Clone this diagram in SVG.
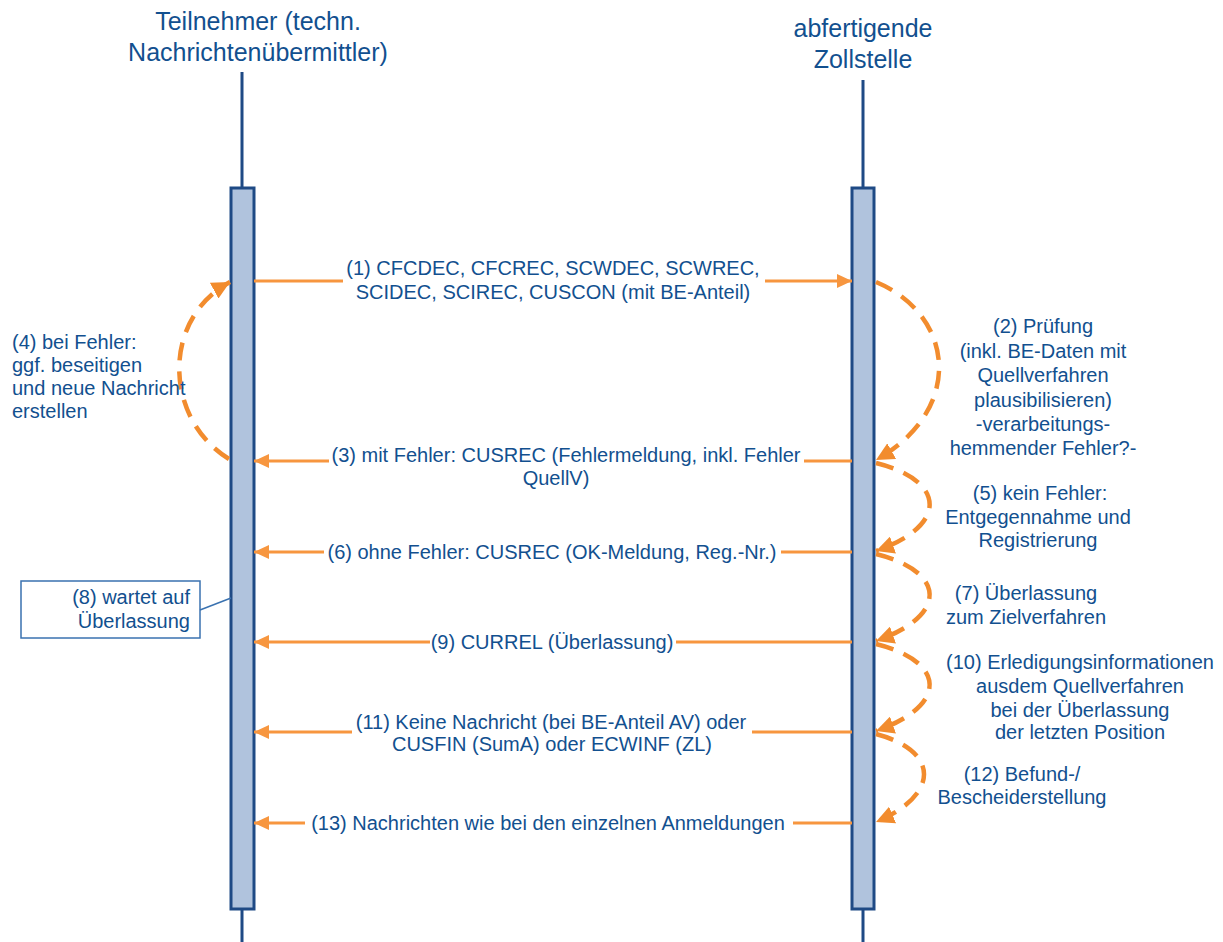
<svg xmlns="http://www.w3.org/2000/svg" width="1223" height="942" viewBox="0 0 1223 942">
<style>
text{font-family:"Liberation Sans",Arial,sans-serif;fill:#12508F;}
.h{font-size:25px;text-anchor:middle;}
.t{font-size:20px;}
.m{text-anchor:middle;}
.life{stroke:#1F4A85;stroke-width:3;fill:none;}
.bar{fill:#B0C3DD;stroke:#1F4A85;stroke-width:3;}
.msg{stroke:#F7963F;stroke-width:3;fill:none;marker-end:url(#ah);}
.seg{stroke:#F7963F;stroke-width:3;fill:none;}
.self{stroke:#F28C2E;stroke-width:4.5;fill:none;stroke-dasharray:18 11;marker-end:url(#ahd);}
</style>
<defs>
<marker id="ah" markerUnits="userSpaceOnUse" markerWidth="16" markerHeight="14" refX="15" refY="7" orient="auto"><path d="M0,0 L15,7 L0,14 z" fill="#F7963F"/></marker>
<marker id="ahd" markerUnits="userSpaceOnUse" markerWidth="20" markerHeight="18" refX="18" refY="9" orient="auto"><path d="M0,0 L18,9 L0,18 z" fill="#F28C2E"/></marker>
</defs>
<g id="participant-left">
<text class="h" x="258" y="30">Teilnehmer (techn.</text>
<text class="h" x="258" y="61">Nachrichtenübermittler)</text>
<line class="life" x1="242" y1="72" x2="242" y2="942"/>
<rect class="bar" x="231" y="188" width="23" height="721"/>
</g>
<g id="participant-right">
<text class="h" x="863" y="37">abfertigende</text>
<text class="h" x="863" y="68">Zollstelle</text>
<line class="life" x1="863" y1="80" x2="863" y2="942"/>
<rect class="bar" x="852" y="188" width="22" height="721"/>
</g>
<g id="note-8">
<rect x="21" y="581" width="179" height="57" fill="#fff" stroke="#3A72B0" stroke-width="1.5"/>
<line x1="200" y1="610" x2="231" y2="598" stroke="#3A72B0" stroke-width="1.5"/>
<text class="t" x="190" y="604" text-anchor="end">(8) wartet auf</text>
<text class="t" x="190" y="628" text-anchor="end">Überlassung</text>
</g>
<g id="connectors">
<line class="seg" x1="254" y1="281" x2="343" y2="281"/>
<line class="msg" x1="765" y1="281" x2="852" y2="281"/>
<line class="seg" x1="852" y1="461" x2="804" y2="461"/>
<line class="msg" x1="329" y1="461" x2="254" y2="461"/>
<line class="seg" x1="852" y1="552" x2="781" y2="552"/>
<line class="msg" x1="324" y1="552" x2="254" y2="552"/>
<line class="seg" x1="852" y1="642" x2="676" y2="642"/>
<line class="msg" x1="430" y1="642" x2="254" y2="642"/>
<line class="seg" x1="852" y1="732" x2="752" y2="732"/>
<line class="msg" x1="352" y1="732" x2="254" y2="732"/>
<line class="seg" x1="852" y1="823" x2="793" y2="823"/>
<line class="msg" x1="305" y1="823" x2="254" y2="823"/>
<path class="self" d="M876 282 C955 315,965 410,876 460"/>
<path class="self" d="M876 463 C945 480,950 525,876 551"/>
<path class="self" d="M876 554 C945 571,950 615,876 641"/>
<path class="self" d="M876 644 C945 661,950 705,876 731"/>
<path class="self" d="M876 734 C940 751,940 795,876 822"/>
<path class="self" d="M229 459 C165 420,160 320,230 282"/>
</g>
<g id="label-1">
<text class="t m" x="553" y="275">(1) CFCDEC, CFCREC, SCWDEC, SCWREC,</text>
<text class="t m" x="553" y="299">SCIDEC, SCIREC, CUSCON (mit BE-Anteil)</text>
</g>
<g id="label-2">
<text class="t m" x="1043" y="333">(2) Prüfung</text>
<text class="t m" x="1043" y="358">(inkl. BE-Daten mit</text>
<text class="t m" x="1043" y="382">Quellverfahren</text>
<text class="t m" x="1043" y="407">plausibilisieren)</text>
<text class="t m" x="1043" y="431">-verarbeitungs-</text>
<text class="t m" x="1043" y="455">hemmender Fehler?-</text>
</g>
<g id="label-3">
<text class="t m" x="566" y="462">(3) mit Fehler: CUSREC (Fehlermeldung, inkl. Fehler</text>
<text class="t m" x="556" y="485">QuellV)</text>
</g>
<g id="label-4">
<text class="t" x="12" y="349">(4) bei Fehler:</text>
<text class="t" x="12" y="372">ggf. beseitigen</text>
<text class="t" x="12" y="395">und neue Nachricht</text>
<text class="t" x="12" y="418">erstellen</text>
</g>
<g id="label-5">
<text class="t m" x="1040" y="500">(5) kein Fehler:</text>
<text class="t m" x="1038" y="524">Entgegennahme und</text>
<text class="t m" x="1038" y="547">Registrierung</text>
</g>
<g id="label-6"><text class="t m" x="552" y="559">(6) ohne Fehler: CUSREC (OK-Meldung, Reg.-Nr.)</text></g>
<g id="label-7">
<text class="t m" x="1026" y="600">(7) Überlassung</text>
<text class="t m" x="1026" y="624">zum Zielverfahren</text>
</g>
<g id="label-9"><text class="t m" x="552" y="649">(9) CURREL (Überlassung)</text></g>
<g id="label-10">
<text class="t m" x="1080" y="669">(10) Erledigungsinformationen</text>
<text class="t m" x="1080" y="693">ausdem Quellverfahren</text>
<text class="t m" x="1080" y="717">bei der Überlassung</text>
<text class="t m" x="1080" y="739">der letzten Position</text>
</g>
<g id="label-11">
<text class="t m" x="551" y="729">(11) Keine Nachricht (bei BE-Anteil AV) oder</text>
<text class="t m" x="552" y="751">CUSFIN (SumA) oder ECWINF (ZL)</text>
</g>
<g id="label-12">
<text class="t m" x="1022" y="781">(12) Befund-/</text>
<text class="t m" x="1022" y="804">Bescheiderstellung</text>
</g>
<g id="label-13"><text class="t m" x="548" y="830">(13) Nachrichten wie bei den einzelnen Anmeldungen</text></g>
</svg>
